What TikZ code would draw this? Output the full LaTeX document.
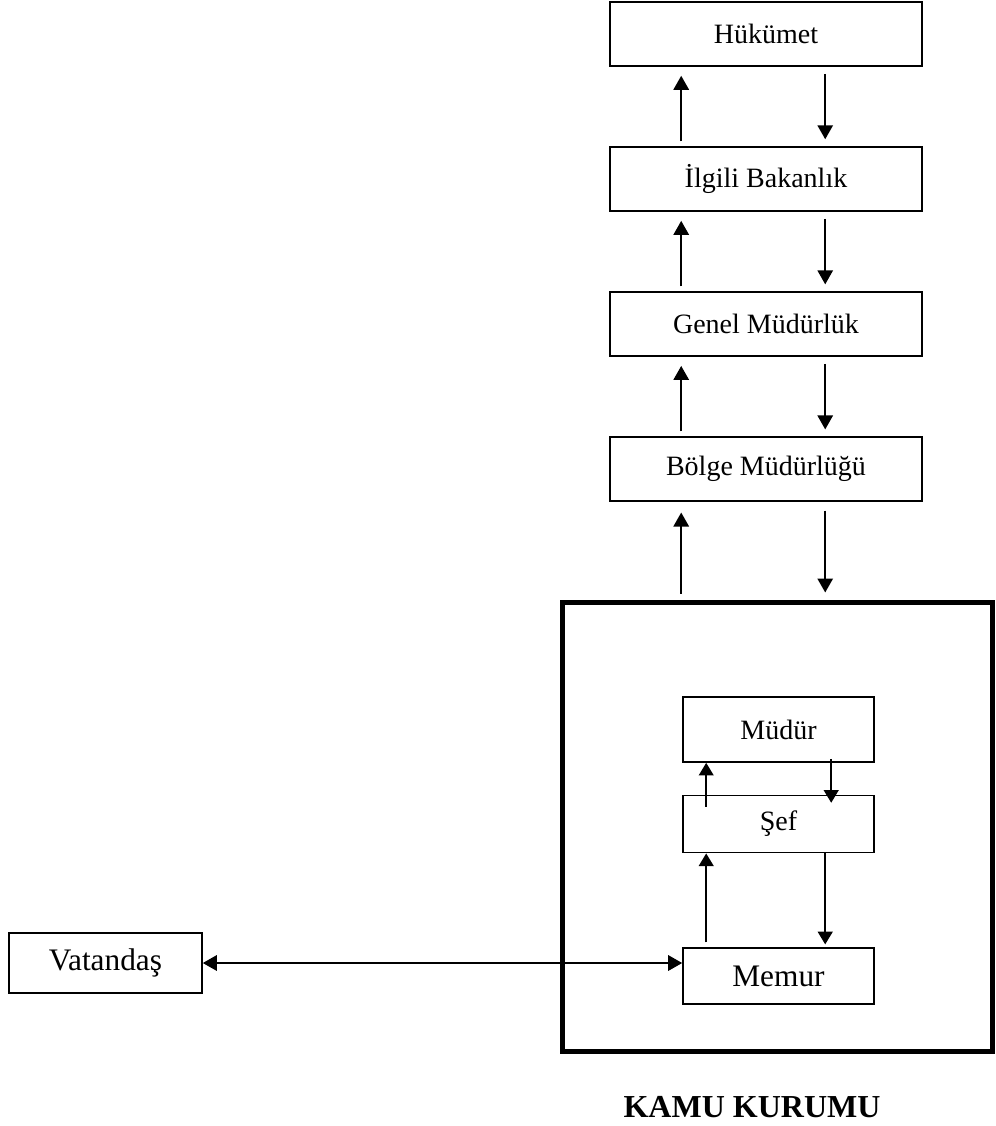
\documentclass[tikz,border=0pt]{standalone}
\usepackage{fontspec}
\setmainfont{Liberation Serif}
\usetikzlibrary{arrows.meta, positioning}

\begin{document}
\begin{tikzpicture}[
    x=0.75pt, y=-0.75pt,
    node distance=59.6pt,
    level/.style={rectangle, draw, line width=1.2pt, inner sep=0pt, minimum width=234pt, minimum height=48pt, font=\fontsize{21}{25}\selectfont},
    unit/.style={rectangle, draw, line width=1.2pt, inner sep=0pt, minimum width=143.25pt, font=\fontsize{21}{25}\selectfont},
    kurumbox/.style={rectangle, draw, line width=3.75pt, inner sep=0pt, minimum width=322.5pt, minimum height=336.75pt},
    arrow/.style={-{Triangle[length=10.5pt, width=11.5pt]}, line width=1.5pt},
    smallarrow/.style={-{Triangle[length=9.5pt, width=11pt]}, line width=1.5pt}
]
\useasboundingbox (0,0) rectangle (995,1126);

% Hierarchy above the institution
\node[level] (huk) at (766,34) {Hükümet};
\node[level, below=of huk] (bak) {İlgili Bakanlık};
\node[level, below=of bak] (gen) {Genel Müdürlük};
\node[level, below=of gen] (bol) {Bölge Müdürlüğü};

% Institution
\node[kurumbox] (kurum) at (777,826.5) {};
\node[font=\fontsize{24}{28}\selectfont\bfseries] (title) at (752,1107) {KAMU KURUMU};

\node[unit, minimum height=48.75pt] (mud) at (778.5,729.5) {Müdür};
\node[unit, minimum height=42.75pt, below=24pt of mud] (sef) {Şef};
\node[unit, minimum height=42pt, below=70.5pt of sef, font=\fontsize{23.5}{27}\selectfont] (mem) {Memur};

% Citizen
\node[rectangle, draw, line width=1.2pt, inner sep=0pt, minimum width=144.75pt, minimum height=45pt, font=\fontsize{23.5}{27}\selectfont] (vat) at (105.5,963) {Vatandaş};

% Arrows
\foreach \lo/\hi in {bak/huk, gen/bak, bol/gen} {
    \draw[arrow, shorten <=3.75pt, shorten >=6.75pt] ([xshift=54pt]\lo.north west) -- ([xshift=54pt]\hi.south west);
    \draw[arrow, shorten <=5.25pt, shorten >=5.25pt] ([xshift=162pt]\hi.south west) -- ([xshift=162pt]\lo.north west);
}
\coordinate (bolup) at ([xshift=54pt]bol.south west);
\coordinate (boldown) at ([xshift=162pt]bol.south west);
\draw[arrow, shorten <=4.5pt, shorten >=7.9pt] (bolup |- kurum.north) -- (bolup);
\draw[arrow, shorten <=6.4pt, shorten >=5.25pt] (boldown) -- (boldown |- kurum.north);

\draw[smallarrow] ([xshift=18pt, yshift=-9pt]sef.north west) -- ([xshift=18pt]mud.south west);
\draw[smallarrow] ([xshift=111.75pt, yshift=3pt]mud.south west) -- ([xshift=111.75pt, yshift=-6pt]sef.north west);
\draw[smallarrow] ([xshift=18pt, yshift=3.75pt]mem.north west) -- ([xshift=18pt]sef.south west);
\draw[smallarrow] ([xshift=107.25pt]sef.south west) -- ([xshift=107.25pt, yshift=2.25pt]mem.north west);

\draw[{Triangle[length=10.5pt, width=11.5pt]}-{Triangle[length=10.5pt, width=11.5pt]}, line width=1.5pt] (vat.east) -- (vat.east -| mem.west);

\end{tikzpicture}
\end{document}
